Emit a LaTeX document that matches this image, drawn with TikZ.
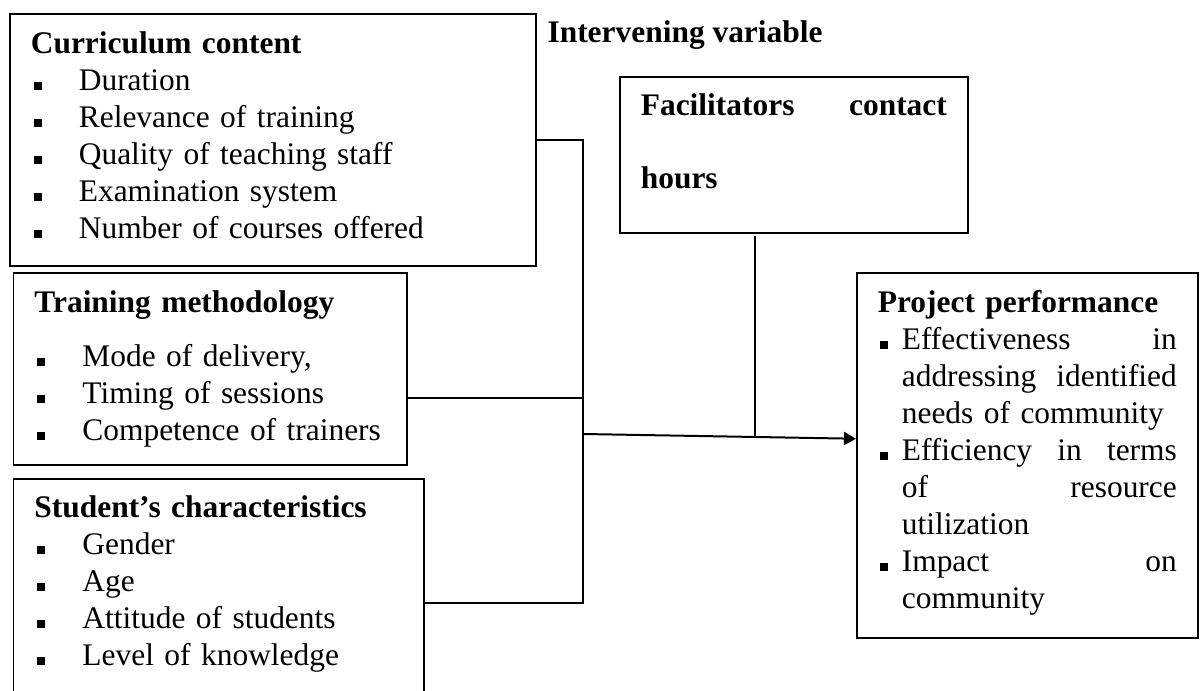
\documentclass[tikz,border=0pt]{standalone}
\usepackage{fontspec}
\setmainfont{Liberation Serif}
\usetikzlibrary{arrows.meta, positioning, calc}
\newcommand{\sqbox}{\rule[0.2pt]{2.8pt}{3pt}}
\newcommand{\lbul}{\makebox[16.8pt][l]{\hspace{1.05pt}\sqbox}}
\newcommand{\pbul}{\makebox[8.4pt][l]{\hspace{0.7pt}\sqbox}}
\newcommand{\pind}{\hspace*{8.4pt}}
\tikzset{
  box/.style={draw, line width=0.6pt, anchor=north west, align=left,
              inner xsep=7.35pt, inner ysep=4.9pt,
              font=\fontsize{11pt}{12.95pt}\selectfont},
  lbl/.style={anchor=base west, inner sep=0pt,
              font=\fontsize{11pt}{12.95pt}\selectfont\bfseries},
  link/.style={line width=0.5pt},
  arr/.style={line width=0.7pt, -{Triangle[length=4.2pt,width=4.6pt]}}
}

\begin{document}
\begin{tikzpicture}[x=0.35pt, y=-0.35pt]
  \useasboundingbox (0,0) rectangle (1201,691);
  % independent variables
  \node[box, text width=169.4pt, text depth=69.3pt] (cc) at (9,13) {%
    \strut\textbf{Curriculum content}\\
    \lbul Duration\\
    \lbul Relevance of training\\
    \lbul Quality of teaching staff\\
    \lbul Examination system\\
    \lbul Number of courses offered};
  \node[box, text width=123pt, text depth=48.3pt] (tm) at (12.6,272) {%
    \strut\textbf{Training methodology}\\[6pt]
    \lbul Mode of delivery,\\
    \lbul Timing of sessions\\
    \lbul Competence of trainers};
  \node[box, text width=128.9pt, text depth=68.6pt, inner ysep=4.55pt] (sc) at (12.6,478) {%
    \strut\textbf{Student’s characteristics}\\
    \lbul Gender\\
    \lbul Age\\
    \lbul Attitude of students\\
    \lbul Level of knowledge};
  % intervening variable
  \node[lbl] (iv) at (547,43) {Intervening variable};
  \node[box, text width=107.1pt, text depth=36.4pt, inner ysep=4.55pt] (fh) at (619,76) {%
    \strut\textbf{Facilitators\hfill contact}\\[12.6pt]
    \textbf{hours}};
  % dependent variable
  \node[box, text width=104.65pt, text depth=108.85pt] (pp) at (856,272) {%
    \strut\textbf{Project performance}\\
    \pbul Effectiveness\hfill in\\
    \pind addressing\hfill identified\\
    \pind needs of community\\
    \pbul Efficiency\hfill in\hfill terms\\
    \pind of\hfill resource\\
    \pind utilization\\
    \pbul Impact\hfill on\\
    \pind community};

  \coordinate (bus) at (583,602);
  \coordinate (tj) at (583,398);
  \coordinate (hub) at (583,434);
  \coordinate (fj) at (755,436.5);
  \draw[link] (cc.east) -| (bus) |- (sc.east);
  \draw[link] (tj -| tm.east) -- (tj);
  \draw[arr] (hub) -- ([yshift=5.8pt]pp.west);
  \draw[link] ([yshift=-1pt]fh.south -| fj) -- (fj);
\end{tikzpicture}
\end{document}
